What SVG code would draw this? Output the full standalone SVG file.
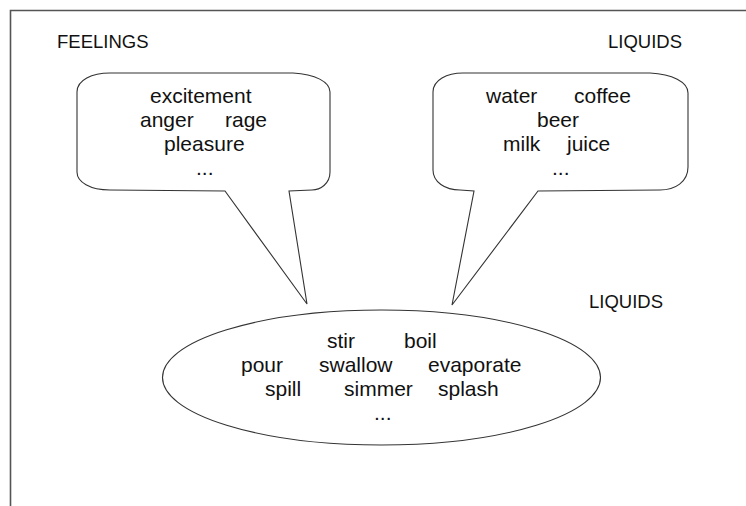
<svg xmlns="http://www.w3.org/2000/svg" width="746" height="506" viewBox="0 0 746 506">
<style>
.frame{fill:none;stroke:#555;stroke-width:1.6}
.shape{fill:#fff;stroke:#333;stroke-width:1.1;stroke-linejoin:miter}
.t{font-family:"Liberation Sans",Arial,sans-serif;font-size:21px;fill:#111}
.h{font-family:"Liberation Sans",Arial,sans-serif;font-size:18.5px;fill:#111}
</style>
<rect width="746" height="506" fill="#fff"/>
<g id="frame">
<path class="frame" d="M10.5 506 L10.5 10.5 L746 10.5"/>
</g>
<g id="labels">
<text class="h" x="57" y="48">FEELINGS</text>
<text class="h" x="608" y="48">LIQUIDS</text>
<text class="h" x="589" y="308">LIQUIDS</text>
</g>
<g id="connectors"></g>
<g id="feelings">
<path class="shape" d="M110 73 L293 73 C315 74 330 82 330 92 L330 172 C330 184 320 190 312 190 L289 191 L307 304 L225 191 L110 190 C90 190 77 182 77 172 L77 92 C77 80 92 73 110 73 Z"/>
<text class="t" x="150" y="103">excitement</text>
<text class="t" x="140" y="127">anger</text>
<text class="t" x="225" y="127">rage</text>
<text class="t" x="164" y="151">pleasure</text>
<text class="t" x="196" y="175">...</text>
</g>
<g id="liquids">
<path class="shape" d="M463 73 L650 73 C672 74 688 82 688 93 L688 167 C688 182 675 190 660 190 L538 191 L452 305 L474 191 L460 190 C445 190 433 182 433 170 L433 92 C433 80 447 73 463 73 Z"/>
<text class="t" x="486" y="103">water</text>
<text class="t" x="574" y="103">coffee</text>
<text class="t" x="537" y="127">beer</text>
<text class="t" x="503" y="151">milk</text>
<text class="t" x="567" y="151">juice</text>
<text class="t" x="552" y="175">...</text>
</g>
<g id="verbs">
<ellipse class="shape" cx="381.5" cy="377.5" rx="219" ry="67.5"/>
<text class="t" x="327" y="348">stir</text>
<text class="t" x="404" y="348">boil</text>
<text class="t" x="241" y="372">pour</text>
<text class="t" x="319" y="372">swallow</text>
<text class="t" x="428" y="372">evaporate</text>
<text class="t" x="265" y="396">spill</text>
<text class="t" x="344" y="396">simmer</text>
<text class="t" x="438" y="396">splash</text>
<text class="t" x="374" y="420">...</text>
</g>
</svg>
